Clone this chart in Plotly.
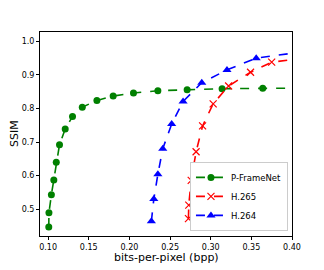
import plotly.graph_objects as go

pf_x = [0.1008, 0.101, 0.104, 0.107, 0.110, 0.114, 0.121, 0.130, 0.142, 0.160, 0.180, 0.205, 0.235, 0.271, 0.314, 0.364, 0.45]
pf_y = [0.447, 0.489, 0.543, 0.587, 0.640, 0.692, 0.739, 0.776, 0.804, 0.824, 0.837, 0.846, 0.853, 0.856, 0.859, 0.860, 0.861]

h265_x = [0.2726, 0.273, 0.276, 0.282, 0.290, 0.303, 0.322, 0.349, 0.375, 0.43]
h265_y = [0.472, 0.512, 0.586, 0.671, 0.748, 0.814, 0.867, 0.908, 0.938, 0.955]

h264_x = [0.227, 0.230, 0.235, 0.241, 0.252, 0.266, 0.289, 0.320, 0.356, 0.44]
h264_y = [0.464, 0.530, 0.604, 0.680, 0.754, 0.821, 0.877, 0.915, 0.950, 0.978]

x_ticks = [0.10, 0.15, 0.20, 0.25, 0.30, 0.35, 0.40]
x_labels = ["0.10", "0.15", "0.20", "0.25", "0.30", "0.35", "0.40"]
y_ticks = [0.5, 0.6, 0.7, 0.8, 0.9, 1.0]
y_labels = ["0.5", "0.6", "0.7", "0.8", "0.9", "1.0"]

fig = go.Figure()
fig.add_trace(go.Scatter(x=pf_x, y=pf_y, name="P-FrameNet", mode="lines+markers",
                         line=dict(color="green", dash="dash", width=1.6),
                         marker=dict(symbol="circle", size=7, color="green")))
fig.add_trace(go.Scatter(x=h265_x, y=h265_y, name="H.265", mode="lines+markers",
                         line=dict(color="red", dash="dash", width=1.6),
                         marker=dict(symbol="x-thin", size=7, color="red",
                                     line=dict(color="red", width=1.2))))
fig.add_trace(go.Scatter(x=h264_x, y=h264_y, name="H.264", mode="lines+markers",
                         line=dict(color="blue", dash="dash", width=1.6),
                         marker=dict(symbol="triangle-up", size=8, color="blue")))

axis_common = dict(showline=True, linecolor="black", linewidth=1, mirror=True,
                   ticks="outside", ticklen=3, tickcolor="black", showgrid=False,
                   zeroline=False, automargin=False,
                   tickfont=dict(family="DejaVu Sans", size=8, color="black"))

fig.update_layout(
    width=316, height=262,
    margin=dict(l=32, r=32, t=24, b=34, autoexpand=False),
    plot_bgcolor="white", paper_bgcolor="white",
    showlegend=True,
    legend=dict(x=0.984, y=0.025, xanchor="right", yanchor="bottom",
                bgcolor="white", bordercolor="#cccccc", borderwidth=1,
                font=dict(family="DejaVu Sans", size=8.5, color="black"),
                tracegroupgap=0, itemwidth=30),
    xaxis=dict(range=[0.090, 0.40], tickvals=x_ticks, ticktext=x_labels, **axis_common),
    yaxis=dict(range=[0.42, 1.028], tickvals=y_ticks, ticktext=y_labels, **axis_common),
    annotations=[
        dict(text="bits-per-pixel (bpp)", xref="paper", yref="paper", x=0.5, y=-0.103,
             xanchor="center", yanchor="middle", showarrow=False,
             font=dict(family="DejaVu Sans", size=11, color="black")),
        dict(text="SSIM", xref="paper", yref="paper", x=-0.103, y=0.5,
             xanchor="center", yanchor="middle", showarrow=False, textangle=-90,
             font=dict(family="DejaVu Sans", size=11, color="black")),
    ],
)

fig.write_html("out.html")
